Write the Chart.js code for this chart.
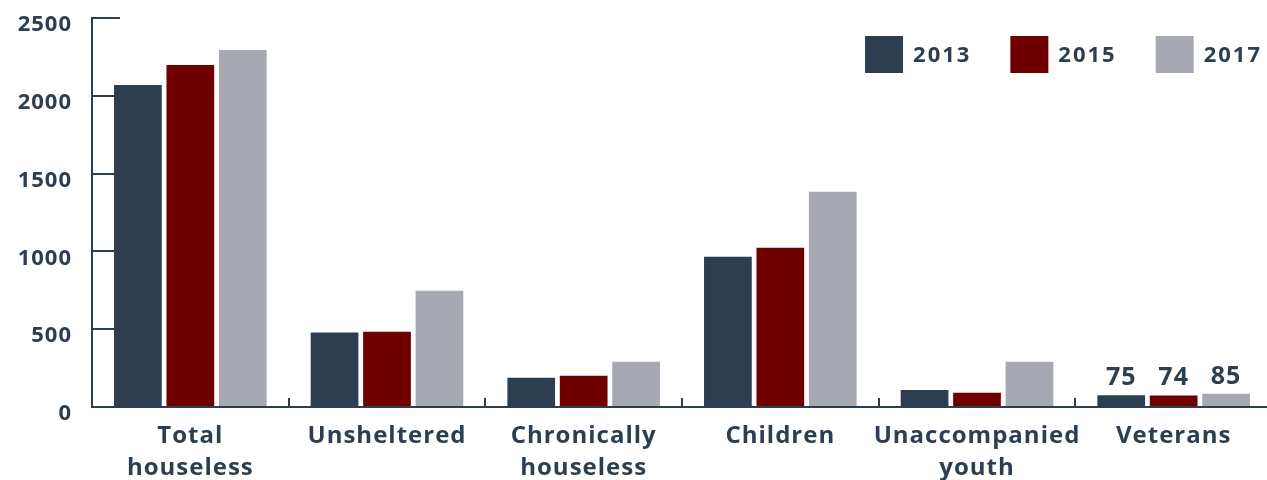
<!DOCTYPE html>
<html>
<head>
<meta charset="utf-8">
<script src="https://cdn.jsdelivr.net/npm/chart.js@4.4.1/dist/chart.umd.min.js"></script>
<style>
  html, body { margin: 0; padding: 0; background: #fff; overflow: hidden; }
</style>
</head>
<body>
<canvas id="chart" width="1272" height="480"></canvas>
<script>
// values
const categories = [["Total", "houseless"], "Unsheltered", ["Chronically", "houseless"], "Children", ["Unaccompanied", "youth"], "Veterans"]
const years = ["2013", "2015", "2017"]
const counts2013 = [2070, 478, 188, 966, 109, 75]
const counts2015 = [2198, 484, 201, 1024, 92, 74]
const counts2017 = [2294, 747, 291, 1384, 291, 85]
const yTicks = [0, 500, 1000, 1500, 2000, 2500]
const labelledCategory = "Veterans"

const ink = "#2c3e50"
const colors = ["#2c3e50", "#700000", "#a7a9b2"]
const fontFamily = "'Open Sans', sans-serif"

Chart.defaults.font.family = fontFamily
Chart.defaults.font.weight = "700"
Chart.defaults.color = ink

// a little letter spacing so the text is as wide as the original
const spacing = {
    id: "spacing",
    beforeDraw(chart) { chart.ctx.letterSpacing = "1px" }
}

// numbers over the bars of one category
const valueLabels = {
    id: "valueLabels",
    afterDatasetsDraw(chart) {
        const ctx = chart.ctx
        const idx = chart.data.labels.indexOf(labelledCategory)
        ctx.save()
        ctx.font = "700 25px " + fontFamily
        ctx.fillStyle = ink
        ctx.textAlign = "center"
        ctx.textBaseline = "alphabetic"
        chart.data.datasets.forEach((ds, i) => {
            const bar = chart.getDatasetMeta(i).data[idx]
            ctx.fillText(ds.data[idx], bar.x, bar.y - 10)
        })
        ctx.restore()
    }
}

// legend drawn inside the plot, top right
const insideLegend = {
    id: "insideLegend",
    afterDraw(chart) {
        const ctx = chart.ctx
        const box = 38, boxH = 37, gap = 10, between = 39
        const top = 36, rightEdge = 1262
        ctx.save()
        ctx.font = "700 22px " + fontFamily
        ctx.letterSpacing = "2px"
        ctx.textBaseline = "middle"
        ctx.textAlign = "left"
        const items = chart.data.datasets.map(ds => ({ text: ds.label, color: ds.backgroundColor, w: ctx.measureText(ds.label).width }))
        let total = 0
        items.forEach((it, i) => { total += box + gap + it.w + (i ? between : 0) })
        let x = rightEdge - total
        items.forEach(it => {
            ctx.fillStyle = it.color
            ctx.fillRect(x, top, box, boxH)
            ctx.fillStyle = ink
            ctx.fillText(it.text, x + box + gap, top + boxH / 2 + 1)
            x += box + gap + it.w + between
        })
        ctx.restore()
    }
}

const datasets = [counts2013, counts2015, counts2017].map((data, i) => ({
    label: years[i],
    data: data,
    backgroundColor: colors[i],
    borderWidth: 0,
    categoryPercentage: 0.8,
    barPercentage: 0.91
}))

new Chart(document.getElementById("chart").getContext("2d"), {
    type: "bar",
    data: {
        labels: categories,
        datasets: datasets
    },
    plugins: [spacing, valueLabels, insideLegend],
    options: {
        responsive: false,
        animation: false,
        layout: { padding: { top: 18, right: 0, bottom: 0, left: 0 } },
        plugins: {
            tooltip: { enabled: false },
            legend: { display: false }
        },
        scales: {
            x: {
                border: { display: true, color: ink, width: 2 },
                grid: { drawOnChartArea: false, tickLength: -9, color: ink, lineWidth: 2, offset: true },
                ticks: {
                    color: ink,
                    font: { size: 24, weight: "700", lineHeight: 1.33 },
                    padding: 22,
                    maxRotation: 0,
                    autoSkip: false
                },
                afterFit(s) { s.height = 73 }
            },
            y: {
                min: 0,
                max: 2500,
                border: { display: true, color: ink, width: 2 },
                grid: { drawOnChartArea: false, tickLength: -28, color: ink, lineWidth: 2 },
                ticks: {
                    color: ink,
                    font: { size: 22, weight: "700" },
                    padding: 48,
                    labelOffset: 7,
                    callback: v => String(v)
                },
                afterBuildTicks(s) { s.ticks = yTicks.map(v => ({ value: v })) },
                afterFit(s) {
                    s.width = 92
                    s.paddingTop = 0
                    s.paddingBottom = 0
                }
            }
        }
    }
})
</script>
</body>
</html>
